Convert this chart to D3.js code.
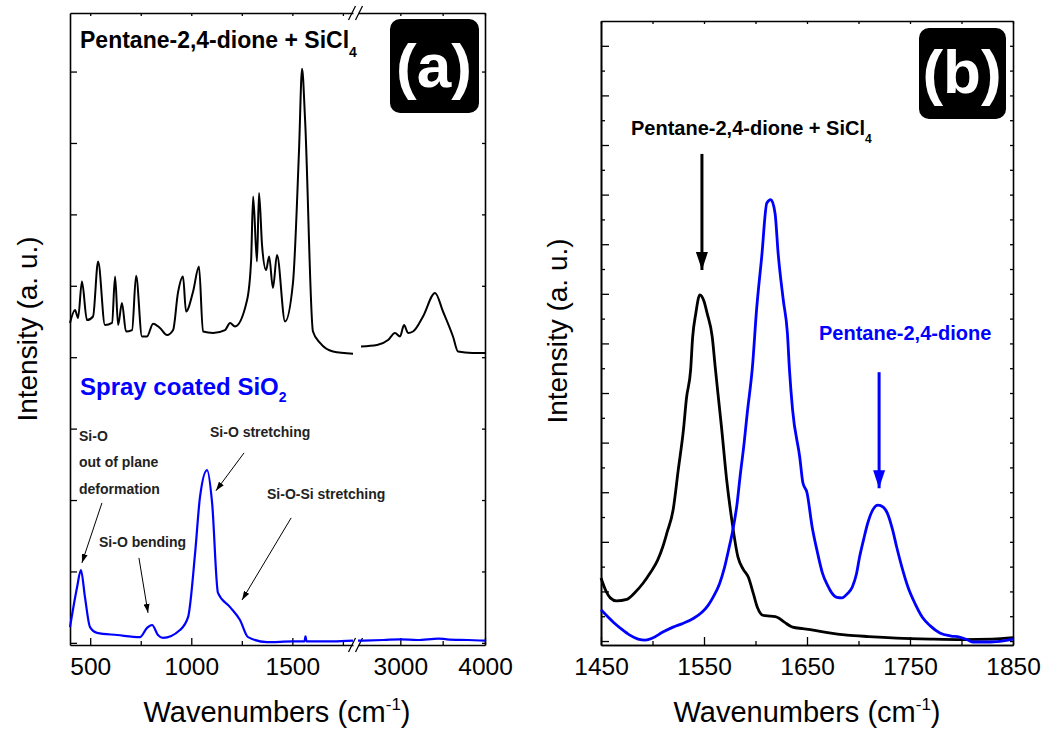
<!DOCTYPE html>
<html>
<head>
<meta charset="utf-8">
<script src="https://cdn.jsdelivr.net/npm/d3@7"></script>
<style>
  body { margin: 0; background: #fff; }
  text { font-family: "Liberation Sans", Arial, sans-serif; }
</style>
</head>
<body>
<div id="chart"></div>
<script>
// ---- data ----
// panel (a): Raman spectra, broken x axis (400-1800 | 2500-4000)
var acacSiCl4Low = [[400,4.48],[425,4.66],[440,4.55],[459,5.06],[484,4.52],[514,4.57],[539,5.34],[573,4.45],
  [608,4.48],[623,5.13],[638,4.45],[657,4.76],[677,4.36],[707,4.38],[727,5.14],[756,4.29],[781,4.29],
  [811,4.47],[845,4.41],[880,4.31],[910,4.38],[934,4.9],[959,5.13],[974,4.64],[1009,4.92],[1038,5.27],
  [1058,4.36],[1108,4.34],[1167,4.38],[1192,4.48],[1216,4.43],[1276,4.8],[1296,5.36],[1306,6.25],
  [1325,5.34],[1335,6.3],[1350,5.57],[1370,5.22],[1385,5.41],[1404,4.97],[1424,5.43],[1464,4.5],
  [1503,5.04],[1533,6.9],[1548,8.04],[1563,7.32],[1602,4.36],[1637,4.2],[1701,4.08],[1800,4.05]];
var acacSiCl4High = [[2536,4.15],[2725,4.17],[2855,4.24],[2937,4.34],[2996,4.29],[3044,4.45],[3091,4.34],
  [3150,4.36],[3268,4.57],[3410,4.9],[3504,4.64],[3622,4.29],[3681,4.08],[3850,4.06],[4000,4.06]];
var sio2Low = [[400,0.22],[435,0.78],[454,1.02],[474,0.64],[499,0.22],[534,0.14],[633,0.11],[746,0.08],
  [781,0.21],[806,0.25],[835,0.11],[860,0.07],[944,0.18],[984,0.36],[1019,1.26],[1043,2.04],[1078,2.42],
  [1103,1.96],[1132,0.7],[1192,0.5],[1241,0.32],[1281,0.08],[1375,0.01],[1500,0.02],[1560,0.02],
  [1565,0.09],[1570,0.02],[1700,0.02],[1800,0.03]];
var sio2High = [[2500,0.03],[2800,0.04],[3000,0.05],[3200,0.04],[3450,0.06],[3550,0.05],[3800,0.04],[4000,0.03]];

var aMajorX = [500, 1000, 1500];
var aMinorX = [750, 1250, 1750];
var aMajorX2 = [3000, 4000];
var aMinorX2 = [3500];
var aTicksY = [0, 1, 2, 3, 4, 5, 6, 7, 8];

// panel (b): zoom 1450-1850
var bAcacSiCl4 = [[1450,1.27],[1455,1.0],[1459,0.87],[1465,0.81],[1475,0.84],[1483,0.98],[1491,1.17],
  [1498,1.38],[1505,1.63],[1510,1.9],[1514,2.18],[1520,2.64],[1525,3.45],[1530,4.25],[1533,4.9],
  [1537,5.46],[1539,6.13],[1542,6.6],[1546,6.98],[1550,6.85],[1553,6.61],[1558,6.13],[1561,5.5],
  [1564,4.9],[1567,4.31],[1572,3.25],[1577,2.44],[1583,1.69],[1588,1.45],[1593,1.29],[1598,0.95],
  [1602,0.67],[1607,0.52],[1615,0.5],[1621,0.48],[1628,0.38],[1636,0.28],[1646,0.25],[1656,0.22],
  [1670,0.17],[1689,0.12],[1710,0.09],[1737,0.06],[1770,0.04],[1801,0.03],[1830,0.04],[1850,0.07]];
var bAcac = [[1450,0.63],[1462,0.38],[1470,0.24],[1478,0.12],[1486,0.04],[1493,0.02],[1500,0.06],
  [1510,0.18],[1520,0.28],[1530,0.36],[1540,0.46],[1548,0.58],[1554,0.72],[1559,0.89],[1565,1.15],
  [1570,1.49],[1574,1.85],[1578,2.24],[1582,2.75],[1585,3.31],[1589,4.0],[1592,4.6],[1597,5.52],
  [1601,6.67],[1606,7.74],[1611,8.83],[1615,8.9],[1619,8.62],[1622,7.81],[1627,6.87],[1631,6.2],
  [1633,5.46],[1636,4.66],[1643,3.7],[1646,3.19],[1650,2.99],[1655,2.3],[1660,1.8],[1665,1.37],
  [1670,1.12],[1674,0.97],[1679,0.88],[1684,0.87],[1689,0.95],[1694,1.09],[1698,1.35],[1701,1.69],
  [1705,2.05],[1709,2.38],[1714,2.65],[1719,2.74],[1724,2.7],[1728,2.58],[1733,2.25],[1737,1.9],
  [1742,1.5],[1748,1.09],[1755,0.75],[1762,0.48],[1770,0.3],[1779,0.16],[1790,0.1],[1798,0.08],
  [1805,0.03],[1811,-0.02],[1822,-0.02],[1834,-0.01],[1850,0.04]];

var bMajorX = [1450, 1550, 1650, 1750, 1850];
var bMinorX = [1500, 1600, 1700, 1800];
var bMajorY = [0, 1, 2, 3, 4, 5, 6, 7, 8, 9, 10, 11, 12];
var bMinorY = [0.5, 1.5, 2.5, 3.5, 4.5, 5.5, 6.5, 7.5, 8.5, 9.5, 10.5, 11.5];

// annotation arrows, in data units [x1, y1, x2, y2]
var aArrows = [[558, 1.96, 459, 1.12], [741, 1.19, 786, 0.42], [1261, 2.66, 1122, 2.13], [1494, 1.75, 1251, 0.6]];
var bArrowBlack = [1548, 9.82, 1548, 7.48];
var bArrowBlue = [1720, 5.42, 1720, 3.08];

var BLUE = "#0000ff";
var fmt = d3.format("d");

var svg = d3.select("#chart").append("svg")
  .attr("width", 1042)
  .attr("height", 732);

var defs = svg.append("defs");
function addMarker(id, color, w, l) {
  defs.append("marker")
    .attr("id", id)
    .attr("markerUnits", "userSpaceOnUse")
    .attr("viewBox", "0 " + (-w / 2) + " " + l + " " + w)
    .attr("refX", l).attr("refY", 0)
    .attr("markerWidth", l).attr("markerHeight", w)
    .attr("orient", "auto")
    .append("path")
    .attr("d", "M0," + (-w / 2) + "L" + l + ",0L0," + (w / 2) + "Z")
    .attr("fill", color);
}
addMarker("headThin", "#000", 6, 9);
addMarker("headBlack", "#000", 12, 18);
addMarker("headBlue", BLUE, 12, 18);

// ========== panel (a) ==========
var aL = 70, aR = 485, aT = 13, aB = 645, brk1 = 353, brk2 = 358;
var xA1 = d3.scaleLinear().domain([400, 1800]).range([aL, brk1]);
var xA2 = d3.scaleLinear().domain([2500, 4000]).range([brk2, aR]);
var yA = d3.scaleLinear().domain([-0.03, 8.82]).range([aB, aT]);

var pa = svg.append("g").attr("class", "panelA");

function styleAxis(g) {
  g.selectAll("path.domain").attr("stroke", "#000").attr("stroke-width", 1.6);
  g.selectAll(".tick line").attr("stroke", "#000").attr("stroke-width", 1.3);
  g.selectAll(".tick text").attr("font-size", 24.5).attr("fill", "#000")
    .attr("font-family", "'Liberation Sans', Arial, sans-serif");
}

// bottom + top axes, one per segment of the broken axis
[[xA1, aMajorX, aMinorX], [xA2, aMajorX2, aMinorX2]].forEach(function(s) {
  var g = pa.append("g").attr("transform", "translate(0," + aB + ")")
    .call(d3.axisBottom(s[0]).tickValues(s[1]).tickSize(-7).tickSizeOuter(0).tickPadding(13).tickFormat(fmt));
  styleAxis(g);
  var gm = pa.append("g").attr("transform", "translate(0," + aB + ")")
    .call(d3.axisBottom(s[0]).tickValues(s[2]).tickSize(-4).tickSizeOuter(0).tickFormat(""));
  styleAxis(gm);
  gm.select("path.domain").remove();
  var gt = pa.append("g").attr("transform", "translate(0," + aT + ")")
    .call(d3.axisTop(s[0]).tickValues(s[1].concat(s[2])).tickSize(-3).tickSizeOuter(0).tickFormat(""));
  styleAxis(gt);
});
var gl = pa.append("g").attr("transform", "translate(" + aL + ",0)")
  .call(d3.axisLeft(yA).tickValues(aTicksY).tickSize(-7).tickSizeOuter(0).tickFormat(""));
styleAxis(gl);
var gr = pa.append("g").attr("transform", "translate(" + aR + ",0)")
  .call(d3.axisRight(yA).tickValues(aTicksY).tickSize(-3).tickSizeOuter(0).tickFormat(""));
styleAxis(gr);

// break marks
[aB, aT].forEach(function(yy) {
  var cx = (brk1 + brk2) / 2;
  [-3.5, 3.5].forEach(function(off) {
    pa.append("line")
      .attr("x1", cx + off - 3.5).attr("y1", yy + 7)
      .attr("x2", cx + off + 3.5).attr("y2", yy - 7)
      .attr("stroke", "#000").attr("stroke-width", 1.3);
  });
});

var lineA1 = d3.line().x(function(d) { return xA1(d[0]); }).y(function(d) { return yA(d[1]); }).curve(d3.curveMonotoneX);
var lineA2 = d3.line().x(function(d) { return xA2(d[0]); }).y(function(d) { return yA(d[1]); }).curve(d3.curveMonotoneX);

pa.append("path").datum(acacSiCl4Low).attr("d", lineA1).attr("fill", "none").attr("stroke", "#000").attr("stroke-width", 2);
pa.append("path").datum(acacSiCl4High).attr("d", lineA2).attr("fill", "none").attr("stroke", "#000").attr("stroke-width", 2);
pa.append("path").datum(sio2Low).attr("d", lineA1).attr("fill", "none").attr("stroke", BLUE).attr("stroke-width", 2.2);
pa.append("path").datum(sio2High).attr("d", lineA2).attr("fill", "none").attr("stroke", BLUE).attr("stroke-width", 2.2);

aArrows.forEach(function(a) {
  pa.append("line")
    .attr("x1", xA1(a[0])).attr("y1", yA(a[1]))
    .attr("x2", xA1(a[2])).attr("y2", yA(a[3]))
    .attr("stroke", "#000").attr("stroke-width", 1)
    .attr("marker-end", "url(#headThin)");
});

// labels in (a)
var t1 = pa.append("text").attr("x", 80).attr("y", 48).attr("font-size", 23).attr("font-weight", "bold");
t1.append("tspan").text("Pentane-2,4-dione + SiCl");
t1.append("tspan").attr("dy", 9).attr("font-size", 14).text("4");

var t2 = pa.append("text").attr("x", 80).attr("y", 395).attr("font-size", 24).attr("font-weight", "bold").attr("fill", BLUE);
t2.append("tspan").text("Spray coated SiO");
t2.append("tspan").attr("dy", 7).attr("font-size", 14).text("2");

var ann = [["Si-O", 79, 441], ["out of plane", 79, 467], ["deformation", 79, 494],
  ["Si-O bending", 99, 547], ["Si-O stretching", 210, 437], ["Si-O-Si stretching", 267, 499]];
ann.forEach(function(a) {
  pa.append("text").attr("x", a[1]).attr("y", a[2]).attr("font-size", 14).attr("font-weight", "bold")
    .attr("fill", "#222").text(a[0]);
});

pa.append("rect").attr("x", 390).attr("y", 19).attr("width", 89).attr("height", 94).attr("rx", 10).attr("fill", "#000");
pa.append("text").attr("x", 434).attr("y", 87).attr("text-anchor", "middle").attr("font-size", 62)
  .attr("font-weight", "bold").attr("font-family", "Lato, 'Open Sans', sans-serif").attr("fill", "#fff").text("(a)");

// ========== panel (b) ==========
var bL = 601, bR = 1013, bT = 21, bB = 645;
var xB = d3.scaleLinear().domain([1450, 1850]).range([bL, bR]);
var yB = d3.scaleLinear().domain([-0.08, 12.5]).range([bB, bT]);

var pb = svg.append("g").attr("class", "panelB");

var gbx = pb.append("g").attr("transform", "translate(0," + bB + ")")
  .call(d3.axisBottom(xB).tickValues(bMajorX).tickSize(-8).tickSizeOuter(0).tickPadding(13).tickFormat(fmt));
styleAxis(gbx);
var gbxm = pb.append("g").attr("transform", "translate(0," + bB + ")")
  .call(d3.axisBottom(xB).tickValues(bMinorX).tickSize(-4).tickSizeOuter(0).tickFormat(""));
styleAxis(gbxm);
var gbt = pb.append("g").attr("transform", "translate(0," + bT + ")")
  .call(d3.axisTop(xB).tickValues(bMajorX.concat(bMinorX)).tickSize(-3).tickSizeOuter(0).tickFormat(""));
styleAxis(gbt);
var gby = pb.append("g").attr("transform", "translate(" + bL + ",0)")
  .call(d3.axisLeft(yB).tickValues(bMajorY).tickSize(-8).tickSizeOuter(0).tickFormat(""));
styleAxis(gby);
var gbym = pb.append("g").attr("transform", "translate(" + bL + ",0)")
  .call(d3.axisLeft(yB).tickValues(bMinorY).tickSize(-4).tickSizeOuter(0).tickFormat(""));
styleAxis(gbym);
var gbr = pb.append("g").attr("transform", "translate(" + bR + ",0)")
  .call(d3.axisRight(yB).tickValues(bMajorY.concat(bMinorY)).tickSize(-3).tickSizeOuter(0).tickFormat(""));
styleAxis(gbr);

var lineB = d3.line().x(function(d) { return xB(d[0]); }).y(function(d) { return yB(d[1]); }).curve(d3.curveMonotoneX);
pb.append("path").datum(bAcacSiCl4).attr("d", lineB).attr("fill", "none").attr("stroke", "#000").attr("stroke-width", 2.8);
pb.append("path").datum(bAcac).attr("d", lineB).attr("fill", "none").attr("stroke", BLUE).attr("stroke-width", 2.8);

pb.append("line").attr("x1", xB(bArrowBlack[0])).attr("y1", yB(bArrowBlack[1]))
  .attr("x2", xB(bArrowBlack[2])).attr("y2", yB(bArrowBlack[3]))
  .attr("stroke", "#000").attr("stroke-width", 3).attr("marker-end", "url(#headBlack)");
pb.append("line").attr("x1", xB(bArrowBlue[0])).attr("y1", yB(bArrowBlue[1]))
  .attr("x2", xB(bArrowBlue[2])).attr("y2", yB(bArrowBlue[3]))
  .attr("stroke", BLUE).attr("stroke-width", 3).attr("marker-end", "url(#headBlue)");

var t3 = pb.append("text").attr("x", 631).attr("y", 135).attr("font-size", 20).attr("font-weight", "bold");
t3.append("tspan").text("Pentane-2,4-dione + SiCl");
t3.append("tspan").attr("dy", 8).attr("font-size", 12).text("4");

pb.append("text").attr("x", 819).attr("y", 340).attr("font-size", 20).attr("font-weight", "bold")
  .attr("fill", BLUE).text("Pentane-2,4-dione");

pb.append("rect").attr("x", 919).attr("y", 28).attr("width", 87).attr("height", 91).attr("rx", 10).attr("fill", "#000");
pb.append("text").attr("x", 962).attr("y", 93).attr("text-anchor", "middle").attr("font-size", 62)
  .attr("font-weight", "bold").attr("font-family", "Lato, 'Open Sans', sans-serif").attr("fill", "#fff").text("(b)");

// ========== axis titles ==========
[[277, 37, 329], [807, 567, 331]].forEach(function(p) {
  var xt = svg.append("text").attr("x", p[0]).attr("y", 722).attr("text-anchor", "middle").attr("font-size", 29);
  xt.append("tspan").text("Wavenumbers (cm");
  xt.append("tspan").attr("dy", -12).attr("font-size", 17).text("-1");
  xt.append("tspan").attr("dy", 12).text(")");

  svg.append("text")
    .attr("transform", "translate(" + p[1] + "," + p[2] + ")rotate(-90)")
    .attr("text-anchor", "middle").attr("font-size", 28)
    .text("Intensity (a. u.)");
});
</script>
</body>
</html>
